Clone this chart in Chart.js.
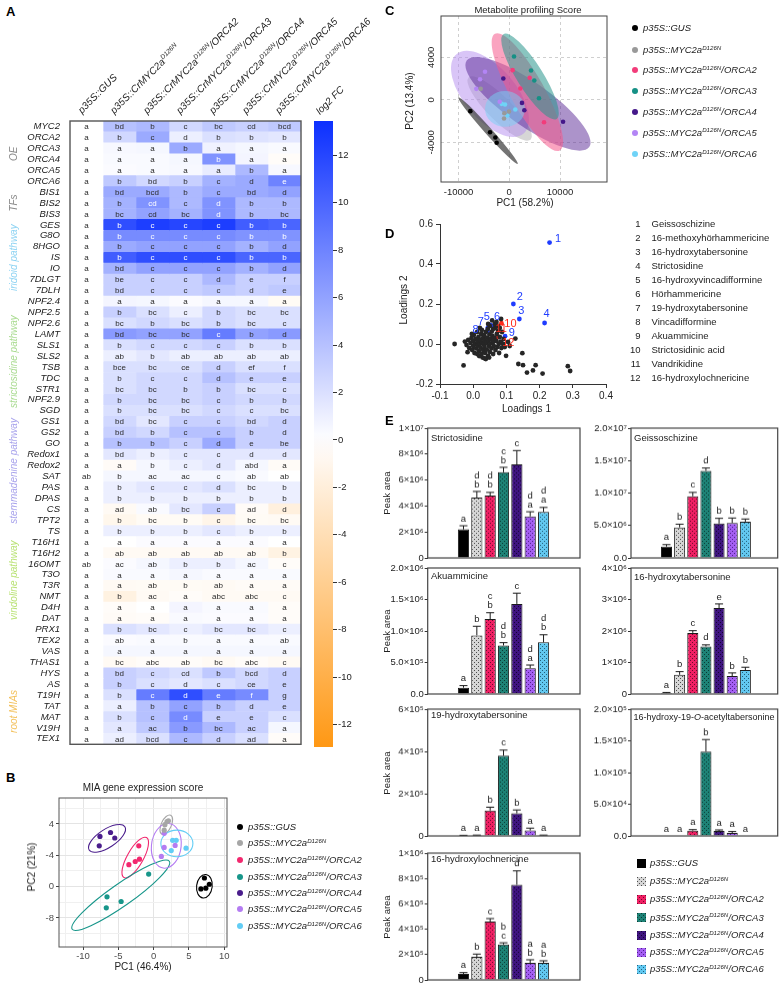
<!DOCTYPE html>
<html><head><meta charset="utf-8"><title>MIA figure</title>
<script src="https://cdn.jsdelivr.net/npm/chart.js@4.4.1/dist/chart.umd.min.js"></script>
<style>
html,body{margin:0;padding:0;background:#fff;}
#fig{position:relative;width:784px;height:985px;overflow:hidden;font-family:"Liberation Sans",Arial,Helvetica,sans-serif;color:#222;}
#fig canvas{position:absolute;}
.tx{position:absolute;white-space:nowrap;line-height:1;}
.sp{font-size:0.65em;position:relative;top:-0.55em;}
</style></head><body><div id="fig"></div>
<script>
// ---------------- DATA ----------------
const genes = ['MYC2','ORCA2','ORCA3','ORCA4','ORCA5','ORCA6','BIS1','BIS2','BIS3','GES','G8O','8HGO','IS','IO','7DLGT','7DLH','NPF2.4','NPF2.5','NPF2.6','LAMT','SLS1','SLS2','TSB','TDC','STR1','NPF2.9','SGD','GS1','GS2','GO','Redox1','Redox2','SAT','PAS','DPAS','CS','TPT2','TS','T16H1','T16H2','16OMT','T3O','T3R','NMT','D4H','DAT','PRX1','TEX2','VAS','THAS1','HYS','AS','T19H','TAT','MAT','V19H','TEX1'];
const heatColumns = [['p35S::GUS'],['p35S::CrMYC2a','D126N'],['p35S::CrMYC2a','D126N','/ORCA2'],['p35S::CrMYC2a','D126N','/ORCA3'],['p35S::CrMYC2a','D126N','/ORCA4'],['p35S::CrMYC2a','D126N','/ORCA5'],['p35S::CrMYC2a','D126N','/ORCA6']];
const log2fc = [
[0,4,4.5,2.5,3.5,3,3.5],[0,2.5,5.5,1,2,1.8,1.5],[0,0.4,0.5,5.5,0.8,0.5,0.3],[0,0.3,0.3,0.5,7,0.6,-0.3],[0,0.2,0.3,0.4,1.2,4.5,0.4],[0,3.5,2.5,3,5,5.5,8],
[0,5.5,5.5,4.5,5.5,5.5,6],[0,5,7,4.5,7,4.5,4.5],[0,5,6,5,7,4.5,4.5],
[0,11.5,12.5,12,12.5,10.5,10],[0,7.5,7.5,7.5,7.5,7,7],[0,5.5,6,6,6,5,6],[0,10.5,11.5,11.5,11.5,10,10],[0,5,6,6,6,5,6],[0,3,3,3,4.5,3,3],[0,3,3,3,3.5,3,3.5],
[0,0.6,0.5,0.2,0.5,0.5,-0.5],[0,3,2,1,2.5,2,2],[0,2,2.5,2,2.5,2,2],[0,6.5,6,6,8.5,6,6.5],[0,2,2.5,2.5,3,2,2],[0,1,1.5,1,1,1,1],[0,2,2,2,3,2,2],[0,2,2.5,2.5,4,3,3],[0,2,2.5,2.5,3,2,2],[0,2.5,2.5,2.5,3,2.5,2.5],[0,2,2,2,2.5,2,2],
[0,2.5,1.5,3,3,2.5,3],[0,3,2.5,4,4,3,3],[0,4,4,3,5.5,3,3],[0,1.5,1,1.5,1.5,1.5,1.5],[0,-0.4,0.5,1,1.5,0.5,-0.4],[0,0.5,0.5,0.5,0.5,0.3,0],[0,1,1.5,1.5,2,1,1],[0,1,1,1,1,1,1],
[0,-0.6,0.3,1.5,3,-0.4,-1.8],[0,-1,-0.5,-0.5,-1.2,-0.5,-0.6],[0,1,1,1,1.5,1,1],
[0,0,0.2,0.2,0.2,0.2,0],[0,-0.6,-0.6,-0.6,-0.6,-0.6,-1.5],[0,0.2,0.5,1,1,0.5,-0.3],[0,0.3,0.3,0.5,0.3,0.3,0.3],[0,-0.6,-0.5,-0.5,-0.6,-0.4,-0.4],[0,-1.6,-0.6,-0.3,-0.6,-0.6,-0.6],[0,-0.3,0,0.6,0.3,0.3,-0.3],[0,-0.4,-0.3,0.3,0.2,0.2,-0.3],
[0,2,1.5,1,1.5,1.5,1],[0,0.2,0.3,0.3,0.3,0.3,0.3],[0,0.5,0.5,0.5,0.5,0.5,0.5],[0,-0.6,-0.3,-0.3,-0.6,-0.3,-0.6],
[0,3,2.5,2,3.5,2.5,3],[0,3,2,1.5,2,2.5,3],[0,2,8.5,11.5,8.5,7.5,3],[0,1,4,6,4,3,3],[0,2,4,7.5,3,3,2],[0,1.5,3.5,6.5,4.5,3,0.5],[0,1,2,4.5,3,2,-0.3]];
const heatLetters = ['a bd b c bc cd bcd','a b c d b b b','a a a b a a a','a a a a b a a','a a a a a b a','a b bd b c d e',
'a bd bcd b c bd d','a b cd c d b b','a bc cd bc d b bc',
'a b c c c b b','a b c c c b b','a b c c c b d','a b c c c b b','a bd c c c b d','a be c c d e f','a bd c c c d e',
'a a a a a a a','a b bc c b bc bc','a bc b bc b bc c','a bd bc bc c b d','a b c c c b b','a ab b ab ab ab ab','a bce bc ce d ef f','a b c c d e e','a bc bc b b bc c','a b bc bc c b b','a b bc bc c c bc',
'a bd bc c c bd d','a bd b c c b d','a b b c d e be','a bd b c c d d','a a b c d abd a','ab b ac ac c ab ab','a b c c d bc b','a b b b b b b',
'a ad ab bc c ad d','a b bc b c bc bc','a b b b c b b',
'a a a a a a a','a ab ab ab ab ab b','ab ac ab b b ac c','a a a a a a a','a a ab b ab a a','a b ac a abc abc c','a a a a a a a','a a a a a a a',
'a b bc c bc bc c','a ab a b a a ab','a a a a a a a','a bc abc ab bc abc c',
'a bd c cd b bcd d','a b c d c ce e','a b c d e f g','a a b c b d e','a b c d e e c','a a ac b bc ac a','a ad bcd c d ad a'];
const heatGroups = [['OE',0,5,'#8a8a8a'],['TFs',6,8,'#8a8a8a'],['iridoid pathway',9,15,'#8dd3f3'],['strictosidine pathway',16,27,'#a9db90'],['stemmadenine pathway',26,37,'#a8a3ec'],['vindoline pathway',38,45,'#b9e274'],['root MIAs',51,56,'#f3c15c']];
const colorbarTicks = [-12,-10,-8,-6,-4,-2,0,2,4,6,8,10,12];
const FC_MIN = -12.95, FC_MAX = 13.45;

const lineNames = [['p35S::GUS'],['p35S::MYC2a','D126N'],['p35S::MYC2a','D126N','/ORCA2'],['p35S::MYC2a','D126N','/ORCA3'],['p35S::MYC2a','D126N','/ORCA4'],['p35S::MYC2a','D126N','/ORCA5'],['p35S::MYC2a','D126N','/ORCA6']];

// Panel B (PCA of MIA gene expression)
const bGUS=[[7.2,1.1],[7.9,0.3],[6.7,-0.3],[7.4,-0.2]];
const bMYC=[[1.9,8.3],[2.1,8.4],[1.6,7.9],[1.5,7.2]];
const bORCA2=[[-2.1,5.2],[-2.0,3.5],[-2.6,3.2],[-3.5,2.8]];
const bORCA3=[[-0.7,1.6],[-6.6,-1.3],[-4.6,-1.9],[-6.7,-2.7]];
const bORCA4=[[-7.6,6.4],[-6.1,6.9],[-5.5,6.2],[-7.7,5.2]];
const bORCA5=[[1.5,6.8],[1.5,5.0],[3.05,5.25],[1.1,3.85]];
const bORCA6=[[2.7,5.9],[3.2,5.9],[2.5,4.6],[4.6,4.9]];
// ellipses: centre x,y and two semi-axis vectors (data units)
const bEllipses=[[7.2,0.05,0.2,1.5,1.1,-0.1],[1.8,7.9,0.62,1.21,0.65,-0.26],[-2.6,3.7,1.6,2.55,0.99,-0.5],[-4.65,-1.1,6.88,4.34,0.9,-1.15],[-6.6,6.15,2.53,1.49,0.7,-0.96],[1.8,5.2,0.3,2.85,2.1,-0.1],[3.3,5.5,2.27,0,0,1.7]];
const bXGrid=[-12.5,-10,-7.5,-5,-2.5,0,2.5,5,7.5,10], bXMajor=[-10,-5,0,5,10], bXLabels=['-10','-5','0','5','10'];
const bYGrid=[-6,-4,-2,0,2,4,6,8,10], bYMajor=[-4,0,4,8], bYLabels=['-8','0','-4','4'];

// Panel C (PCA of metabolite profiling)
const cGUS=[[-7670,-1070],[-3790,-3050],[-2740,-3550],[-2480,-4050]];
const cMYC=[[-5630,1035],[-970,-1260],[-1030,-1760],[-50,-1100]];
const cORCA2=[[670,2790],[4020,2070],[2180,1060],[6850,-2110]];
const cORCA3=[[940,4080],[4290,2760],[4940,1820],[5860,150]];
const cORCA4=[[-1170,2000],[2510,-290],[2970,-980],[10600,-2070]];
const cORCA5=[[-4780,2640],[-6490,1030],[-1880,-190],[-5760,1940]];
const cORCA6=[[-1490,-380],[-840,-440],[1190,-910],[-380,-1480]];
const cEllipses=[[-4190,-2900,5850,-3140,515,220],[-1890,-820,6130,-2930,1670,800],[3570,720,6400,-5490,2930,780],[4090,2190,5240,-3990,2170,650],[3690,-380,12070,-4070,2500,1690],[-3790,560,6620,-3740,3900,1580],[-840,-850,3940,0,0,1690]];
const cXTicks=[-10000,0,10000], cXLabels=['-10000','0','10000'];
const cYTicks=[-4000,0,4000], cYLabels=['-4000','0','4000'];

// Panel D (loadings)
const dOther=[[-0.056,0.0],[-0.029,-0.107],[-0.017,-0.041],[0.099,-0.059],[0.127,0.027],[0.136,-0.1],[0.148,-0.046],[0.15,-0.106],[0.162,-0.143],[0.18,-0.132],[0.188,-0.106],[0.209,-0.148],[0.285,-0.111],[0.292,-0.135],[0.057,0.118],[0.084,0.125],
[-0.025,0.012],[-0.02,-0.005],[-0.015,0.02],[-0.012,-0.02],[-0.008,0.005],[-0.005,0.03],[-0.003,-0.03],[0.0,0.015],[0.0,-0.01],[0.002,0.045],[0.004,-0.045],[0.006,0.0],[0.008,0.025],[0.009,-0.022],[0.012,0.06],[0.013,0.01],[0.014,-0.008],[0.016,0.035],[0.017,-0.035],[0.018,-0.06],[0.02,0.0],[0.021,0.02],[0.022,-0.018],[0.024,0.05],[0.025,-0.05],[0.026,0.07],[0.027,0.008],[0.028,-0.068],[0.03,0.03],[0.03,-0.03],[0.031,0.0],[0.033,0.045],[0.034,-0.015],[0.035,0.018],[0.036,-0.045],[0.038,0.06],[0.038,-0.075],[0.04,0.005],[0.041,-0.028],[0.042,0.032],[0.044,0.075],[0.045,-0.06],[0.046,0.015],[0.047,-0.01],[0.049,0.048],[0.05,-0.04],[0.052,0.002],[0.053,0.025],[0.055,-0.022],[0.056,0.062],[0.058,0.04],[0.06,-0.05],[0.06,0.01],[0.062,-0.01],[0.064,0.03],[0.066,0.08],[0.067,-0.03],[0.07,0.015],[0.071,0.05],[0.073,-0.015],[0.075,0.065],[0.077,0.0],[0.078,-0.045],[0.08,0.035],[0.083,0.012],[0.085,-0.02],[0.087,0.06],[0.09,0.0],[0.092,0.025],[0.095,-0.015],[0.065,0.1],[0.05,0.09],[0.075,0.09],[0.06,0.075],[0.048,-0.068],[0.035,-0.072],[0.02,0.08],[0.012,-0.05],[-0.004,0.05],[0.105,0.01],[0.11,-0.01],[0.07,0.11],[0.08,0.08],[0.045,0.1]];
const dBlue=[[0.23,0.507],[0.121,0.2],[0.139,0.125],[0.215,0.105],[0.051,0.096],[0.056,0.091],[0.044,0.081],[0.043,0.065],[0.096,0.039]];
const dRed=[[0.085,0.104],[0.064,0.091],[0.071,0.032]];
const dCompounds=['Geissoschizine','16-methoxyhörhammericine','16-hydroxytabersonine','Strictosidine','16-hydroxyvincadifformine','Hörhammericine','19-hydroxytabersonine','Vincadifformine','Akuammicine','Strictosidinic acid','Vandrikidine','16-hydroxylochnericine'];
const dXTicks=[-0.1,0,0.1,0.2,0.3,0.4], dXLabels=['-0.1','0.0','0.1','0.2','0.3','0.4'];
const dYTicks=[-0.2,0,0.2,0.4,0.6], dYLabels=['-0.2','0.0','0.2','0.4','0.6'];

// Panel E (peak areas, mean and error)
const strictosidineMean=[2.2e6,4.65e6,4.8e6,6.6e6,7.2e6,3.2e6,3.55e6];
const strictosidineErr=[0.28e6,0.47e6,0.25e6,0.38e6,1.07e6,0.36e6,0.34e6];
const strictosidineLetters=['a','bd','bd','bc','c','ad','ad'];
const strictosidineTicks=[0,2e6,4e6,6e6,8e6,1e7], strictosidineTickLabels=['0','2×10⁶','4×10⁶','6×10⁶','8×10⁶','1×10⁷'];
const geissoschizineMean=[1.75e6,4.7e6,9.5e6,13.4e6,5.3e6,5.4e6,5.6e6];
const geissoschizineErr=[0.3e6,0.5e6,0.6e6,0.45e6,0.8e6,0.75e6,0.4e6];
const geissoschizineLetters=['a','b','c','d','b','b','b'];
const geissoschizineTicks=[0,5e6,1e7,1.5e7,2e7], geissoschizineTickLabels=['0.0','5.0×10⁶','1.0×10⁷','1.5×10⁷','2.0×10⁷'];
const akuammicineMean=[1.0e5,9.3e5,1.19e6,7.7e5,1.43e6,4.1e5,8.2e5];
const akuammicineErr=[0.33e5,1.45e5,1.0e5,0.45e5,1.7e5,0.5e5,1.2e5];
const akuammicineLetters=['a','b','bc','bd','c','ad','bd'];
const akuammicineTicks=[0,5e5,1e6,1.5e6,2e6], akuammicineTickLabels=['0.0','5.0×10⁵','1.0×10⁶','1.5×10⁶','2.0×10⁶'];
const hydroxytabersonineMean=[0.3e5,6.1e5,1.94e6,1.51e6,2.73e6,5.7e5,7.6e5];
const hydroxytabersonineErr=[0.2e5,1.0e5,0.07e6,0.05e6,0.13e6,1.0e5,0.9e5];
const hydroxytabersonineLetters=['a','b','c','d','e','b','b'];
const hydroxytabersonineTicks=[0,1e6,2e6,3e6,4e6], hydroxytabersonineTickLabels=['0','1×10⁶','2×10⁶','3×10⁶','4×10⁶'];
const h19tabersonineMean=[2000,3000,1.2e5,3.8e5,1.07e5,2.6e4,3000];
const h19tabersonineErr=[1000,1000,1.6e4,2.6e4,1.6e4,1.1e4,1000];
const h19tabersonineLetters=['a','a','b','c','b','a','a'];
const h19tabersonineTicks=[0,2e5,4e5,6e5], h19tabersonineTickLabels=['0','2×10⁵','4×10⁵','6×10⁵'];
const acetylMean=[0,0,8500,1.33e5,8000,4800,0];
const acetylErr=[0,0,1500,1.9e4,1500,2200,0];
const acetylLetters=['a','a','a','b','a','a','a'];
const acetylTicks=[0,5e4,1e5,1.5e5,2e5], acetylTickLabels=['0.0','5.0×10⁴','1.0×10⁵','1.5×10⁵','2.0×10⁵'];
const lochnericineMean=[4.8e4,1.83e5,4.6e5,2.8e5,7.5e5,1.35e5,1.35e5];
const lochnericineErr=[1.0e4,2.1e4,2.4e4,1.3e4,1.1e5,2.4e4,1.6e4];
const lochnericineLetters=['a','b','c','cb','d','ba','ba'];
const lochnericineTicks=[0,2e5,4e5,6e5,8e5,1e6], lochnericineTickLabels=['0','2×10⁵','4×10⁵','6×10⁵','8×10⁵','1×10⁶'];

// ---------------- STYLE / HELPERS ----------------
const FONT='"Liberation Sans", Arial, Helvetica, sans-serif';
Chart.defaults.font.family=FONT; Chart.defaults.font.size=9.5; Chart.defaults.color='#222';
Chart.defaults.animation=false; Chart.defaults.responsive=false; Chart.defaults.maintainAspectRatio=false;
Chart.defaults.devicePixelRatio=1; Chart.defaults.events=[];
Chart.defaults.plugins.legend.display=false; Chart.defaults.plugins.tooltip.enabled=false;

const fig=document.getElementById('fig');
function mkCanvas(l,t,w,h){const c=document.createElement('canvas');c.width=w;c.height=h;c.style.left=l+'px';c.style.top=t+'px';c.style.width=w+'px';c.style.height=h+'px';fig.appendChild(c);return c;}
function txt(html,x,y,o={}){const d=document.createElement('div');d.className='tx';d.innerHTML=html;d.style.left=x+'px';d.style.top=y+'px';d.style.fontSize=(o.size||9.5)+'px';
 if(o.color)d.style.color=o.color; if(o.bold)d.style.fontWeight='bold'; if(o.italic)d.style.fontStyle='italic';
 const m=o.mode||'l'; let tr='';
 if(m==='l')tr='translate(0,-50%)'; else if(m==='r')tr='translate(-100%,-50%)'; else if(m==='c')tr='translate(-50%,-50%)';
 else if(m==='v')tr='translate(-50%,-50%) rotate(-90deg)';
 else if(m==='d'){d.style.lineHeight='12px';d.style.top=(y-12)+'px';d.style.transformOrigin='0 100%';tr='rotate(-45deg)';}
 d.style.transform=tr; fig.appendChild(d); return d;}
function lab(p){return p[0]+(p[1]?'<span class="sp">'+p[1]+'</span>':'')+(p[2]||'');}
function fcColor(v){let r,g,b;if(v>=0){const t=Math.min(v/FC_MAX,1);r=255+(12-255)*t;g=255+(48-255)*t;b=255;}else{const t=Math.min(-v/(-FC_MIN),1);r=255;g=255+(152-255)*t;b=255+(20-255)*t;}return `rgb(${r|0},${g|0},${b|0})`;}
function framePlugin(color,w){return {id:'frame',afterDatasetsDraw(c){const a=c.chartArea,x=c.ctx;x.save();x.strokeStyle=color;x.lineWidth=w;x.strokeRect(a.left,a.top,a.right-a.left,a.bottom-a.top);x.restore();}};}
function ellipsePlugin(list,fills,strokes){return {id:'ell',beforeDatasetsDraw(c){const {ctx,scales:{x,y}}=c;const sx=x.getPixelForValue(1)-x.getPixelForValue(0),sy=y.getPixelForValue(1)-y.getPixelForValue(0);
 list.forEach((e,k)=>{ctx.save();ctx.translate(x.getPixelForValue(e[0]),y.getPixelForValue(e[1]));ctx.transform(e[2]*sx,e[3]*sy,e[4]*sx,e[5]*sy,0,0);ctx.beginPath();ctx.arc(0,0,1,0,Math.PI*2);ctx.restore();
 ctx.save();if(fills){ctx.fillStyle=fills[k];ctx.fill();}if(strokes){ctx.strokeStyle=strokes[k];ctx.lineWidth=1.1;ctx.stroke();}ctx.restore();});}};}

// ---------------- PANEL A : heatmap ----------------
txt('A',6,11,{size:13,bold:true,color:'#000'});
new Chart(mkCanvas(0,0,312,760),{type:'bar',
 data:{labels:genes,datasets:heatColumns.map((c,j)=>({data:genes.map(()=>[j,j+1]),backgroundColor:log2fc.map(r=>fcColor(r[j])),borderWidth:0,barPercentage:1,categoryPercentage:1,grouped:false}))},
 options:{indexAxis:'y',layout:{padding:{top:121,bottom:13,right:11,left:0}},
  scales:{x:{type:'linear',min:0,max:7,display:false},
   y:{type:'category',position:'left',grid:{display:false,drawTicks:false},border:{display:false},
      ticks:{autoSkip:false,padding:10,color:'#1a1a1a',font:{size:9.5,style:'italic'}},afterFit:s=>{s.width=70;}}}},
 plugins:[{id:'heat',afterDatasetsDraw(c){const {ctx,chartArea:a,scales:{x,y}}=c;ctx.save();
  ctx.font=`8px ${FONT}`;ctx.textAlign='center';ctx.textBaseline='middle';
  heatLetters.forEach((row,i)=>row.split(' ').forEach((l,j)=>{ctx.fillStyle=log2fc[i][j]>=7?'#ffffff':'#2a2a2a';ctx.fillText(l,x.getPixelForValue(j+0.5),y.getPixelForValue(i)+0.5);}));
  ctx.strokeStyle='#555';ctx.lineWidth=1.4;ctx.strokeRect(a.left,a.top,a.right-a.left,a.bottom-a.top);
  ctx.font=`italic 10px ${FONT}`;
  heatGroups.forEach(g=>{const yc=(y.getPixelForValue(g[1])+y.getPixelForValue(g[2]))/2;ctx.save();ctx.translate(14,yc);ctx.rotate(-Math.PI/2);ctx.fillStyle=g[3];ctx.fillText(g[0],0,0);ctx.restore();});
  ctx.restore();}}]});
heatColumns.forEach((p,j)=>txt(lab(p),86.5+33*j-3,116,{mode:'d',italic:true,size:10}));
// colour bar
new Chart(mkCanvas(300,0,60,760),{type:'bar',
 data:{labels:[''],datasets:[{data:[[FC_MIN,FC_MAX]],borderWidth:0,barPercentage:1,categoryPercentage:1,
  backgroundColor:(ctx)=>{const c=ctx.chart;if(!c.chartArea)return '#fff';const ys=c.scales.y;const g=c.ctx.createLinearGradient(0,ys.getPixelForValue(FC_MIN),0,ys.getPixelForValue(FC_MAX));for(let k=0;k<=26;k++){const v=FC_MIN+(FC_MAX-FC_MIN)*k/26;g.addColorStop(k/26,fcColor(v));}return g;}}]},
 options:{layout:{padding:{top:121,bottom:13,left:14}},
  scales:{x:{display:false},
   y:{position:'right',min:FC_MIN,max:FC_MAX,afterBuildTicks:s=>{s.ticks=colorbarTicks.map(v=>({value:v}));},
      grid:{drawOnChartArea:false,tickLength:4,color:'#333'},border:{display:false},
      ticks:{padding:1,color:'#222',font:{size:9.5}},afterFit:s=>{s.width=27;}}}}});
txt('log2 FC',322,117,{mode:'d',italic:true,size:10});

// ---------------- PANEL B ----------------
const bSets=[bGUS,bMYC,bORCA2,bORCA3,bORCA4,bORCA5,bORCA6];
const bColors=['#000000','#a6a6a6','#f2286e','#17968a','#4a1d8c','#b47cf2','#62cdf5'];
txt('B',6,777,{size:13,bold:true,color:'#000'});
new Chart(mkCanvas(0,760,390,225),{type:'scatter',
 data:{datasets:bSets.map((s,k)=>({data:s.map(p=>({x:p[0],y:p[1]})),backgroundColor:bColors[k],borderWidth:0,pointRadius:2.6}))},
 options:{layout:{padding:{top:38,right:163,left:0,bottom:0}},
  scales:{x:{type:'linear',min:-13.4,max:10.4,afterBuildTicks:s=>{s.ticks=bXGrid.map(v=>({value:v}));},
     grid:{color:c=>bXMajor.includes(c.tick.value)?'#e4e4e4':'#f0f0f0',tickColor:c=>bXMajor.includes(c.tick.value)?'#444':'rgba(0,0,0,0)',tickLength:3},border:{display:false},
     ticks:{padding:1,color:'#4d4d4d',font:{size:9.5},maxRotation:0,autoSkip:false,callback:v=>{const k=bXMajor.indexOf(v);return k>=0?bXLabels[k]:'';}},afterFit:s=>{s.height=38;}},
   y:{type:'linear',min:-7.7,max:11.3,afterBuildTicks:s=>{s.ticks=bYGrid.map(v=>({value:v}));},
     grid:{color:c=>bYMajor.includes(c.tick.value)?'#e4e4e4':'#f0f0f0',tickColor:c=>bYMajor.includes(c.tick.value)?'#444':'rgba(0,0,0,0)',tickLength:3},border:{display:false},
     ticks:{padding:2,color:'#4d4d4d',font:{size:9.5},autoSkip:false,callback:v=>{const k=bYMajor.indexOf(v);return k>=0?bYLabels[k]:'';}},afterFit:s=>{s.width=59;}}}},
 plugins:[ellipsePlugin(bEllipses,null,bColors),framePlugin('#555',1)]});
txt('MIA gene expression score',143,788,{mode:'c',size:10});
txt('PC1 (46.4%)',143,967,{mode:'c',size:10});
txt('PC2 (21%)',32,867,{mode:'v',size:10});
const bLegY=[826.7,843.3,860,876.7,893.3,909.3,926];
lineNames.forEach((p,k)=>{const d=document.createElement('div');d.style.cssText=`position:absolute;left:${240-3}px;top:${bLegY[k]-3}px;width:6px;height:6px;border-radius:50%;background:${bColors[k]}`;fig.appendChild(d);
 txt(lab(p),248,bLegY[k],{italic:true,size:9.5});});

// ---------------- PANEL C ----------------
const cSets=[cGUS,cMYC,cORCA2,cORCA3,cORCA4,cORCA5,cORCA6];
const cPoint=['#000000','#999999','#f23c7a','#159085','#45188a','#b385f5','#6fd3f7'];
const cFill=['rgba(70,70,70,0.75)','rgba(165,165,165,0.45)','rgba(245,90,140,0.55)','rgba(40,150,140,0.55)','rgba(90,40,150,0.5)','rgba(180,140,240,0.5)','rgba(120,210,245,0.5)'];
txt('C',385,10,{size:13,bold:true,color:'#000'});
const cOrder=[1,5,4,2,3,0,6];
new Chart(mkCanvas(390,0,394,215),{type:'scatter',
 data:{datasets:cSets.map((s,k)=>({data:s.map(p=>({x:p[0],y:p[1]})),backgroundColor:cPoint[k],borderWidth:0,pointRadius:2.3}))},
 options:{layout:{padding:{top:16,right:177,left:0,bottom:0}},
  scales:{x:{type:'linear',min:-13450,max:19260,afterBuildTicks:s=>{s.ticks=cXTicks.map(v=>({value:v}));},
     grid:{color:'#cfcfcf',drawTicks:false},border:{display:false,dash:[3,3]},
     ticks:{padding:5,color:'#222',font:{size:9.5},maxRotation:0,callback:(v,i)=>cXLabels[i]},afterFit:s=>{s.height=33;}},
   y:{type:'linear',min:-7740,max:7890,afterBuildTicks:s=>{s.ticks=cYTicks.map(v=>({value:v}));},
     grid:{color:'#cfcfcf',drawTicks:false},border:{display:false,dash:[3,3]},
     ticks:{display:false},afterFit:s=>{s.width=51;}}}},
 plugins:[ellipsePlugin(cOrder.map(k=>cEllipses[k]),cOrder.map(k=>cFill[k]),null),framePlugin('#444',1),
  {id:'cy',afterDraw(c){const {ctx,scales:{y}}=c;ctx.save();ctx.font=`9.5px ${FONT}`;ctx.fillStyle='#222';ctx.textAlign='center';ctx.textBaseline='middle';
   cYTicks.forEach((v,i)=>{ctx.save();ctx.translate(41.5,y.getPixelForValue(v));ctx.rotate(-Math.PI/2);ctx.fillText(cYLabels[i],0,0);ctx.restore();});ctx.restore();}}]});
txt('Metabolite profiling Score',528,9.5,{mode:'c',size:9.5});
txt('PC1 (58.2%)',525,202.5,{mode:'c',size:10});
txt('PC2 (13.4%)',410,101,{mode:'v',size:10});
const cLegY=[28.3,50,70,90.7,111.7,132.7,154];
lineNames.forEach((p,k)=>{const d=document.createElement('div');d.style.cssText=`position:absolute;left:${635-3}px;top:${cLegY[k]-3}px;width:6px;height:6px;border-radius:50%;background:${cPoint[k]}`;fig.appendChild(d);
 txt(lab(p),643,cLegY[k],{italic:true,size:9.5});});

// ---------------- PANEL D ----------------
txt('D',385,233,{size:13,bold:true,color:'#000'});
const dLabDX=[8.4,6.4,2,2,-3.3,5.3,-7,-12,6.7,9,6.7,11.6], dLabDY=[-3.6,-7.3,-8,-8.7,-7.7,-9,-6,-1,-3.6,0.7,3.6,5.3];
new Chart(mkCanvas(390,215,394,200),{type:'scatter',
 data:{datasets:[{data:dOther.map(p=>({x:p[0],y:p[1]})),backgroundColor:'#262626',borderWidth:0,pointRadius:2.4},
   {data:dBlue.map(p=>({x:p[0],y:p[1]})),backgroundColor:'#1f3cff',borderWidth:0,pointRadius:2.4},
   {data:dRed.map(p=>({x:p[0],y:p[1]})),backgroundColor:'#ff2b1c',borderWidth:0,pointRadius:2.4}]},
 options:{layout:{padding:{top:5,right:178,left:0,bottom:0}},
  scales:{x:{type:'linear',min:-0.1,max:0.4,afterBuildTicks:s=>{s.ticks=dXTicks.map(v=>({value:v}));},
     grid:{drawOnChartArea:false,tickLength:4,color:'#333'},border:{display:true,color:'#333',width:1},
     ticks:{padding:2,color:'#222',font:{size:10},maxRotation:0,callback:(v,i)=>dXLabels[i]},afterFit:s=>{s.height=31;}},
   y:{type:'linear',min:-0.2,max:0.6,afterBuildTicks:s=>{s.ticks=dYTicks.map(v=>({value:v}));},
     grid:{drawOnChartArea:false,tickLength:4,color:'#333'},border:{display:true,color:'#333',width:1},
     ticks:{padding:3,color:'#222',font:{size:10},callback:(v,i)=>dYLabels[i]},afterFit:s=>{s.width=50;}}}},
 plugins:[{id:'dlab',afterDatasetsDraw(c){const {ctx,scales:{x,y}}=c;ctx.save();ctx.font=`11px ${FONT}`;ctx.textAlign='center';ctx.textBaseline='middle';
  dBlue.concat(dRed).forEach((p,k)=>{ctx.fillStyle=k<dBlue.length?'#1f3cff':'#ff2b1c';ctx.fillText(String(k+1),x.getPixelForValue(p[0])+dLabDX[k],y.getPixelForValue(p[1])+dLabDY[k]);});ctx.restore();}}]});
txt('Loadings 1',526.5,409,{mode:'c',size:10});
txt('Loadings 2',404,300,{mode:'v',size:10});
dCompounds.forEach((n,k)=>{const yy=224+14*k;txt(String(k+1),640.5,yy,{mode:'r',size:9.5});txt(n,651.5,yy,{size:9.5});});

// ---------------- PANEL E ----------------
txt('E',385,420,{size:13,bold:true,color:'#000'});
function makePattern(base,dot){const c=document.createElement('canvas');c.width=4;c.height=4;const x=c.getContext('2d');x.fillStyle=base;x.fillRect(0,0,4,4);if(dot){x.fillStyle=dot;x.fillRect(0,0,1,1);x.fillRect(2,2,1,1);}return x.createPattern(c,'repeat');}
const eBase=['#000000','#d6d6d6','#ef1f63','#1e8276','#3f1480','#a45ff2','#62c8f0'];
const eDot=[null,'#4a4a4a','#6e0a2c','#0a3a33','#150533','#4f1e8a','#225f7a'];
const ePat=eBase.map((b,k)=>makePattern(b,eDot[k]));
function eChart(L,R,T,B,cl,cw,xmin,xmax,mean,err,letters,ticks,tlabels){
 const cv=mkCanvas(cl,T-12,cw,B-T+20);
 new Chart(cv,{type:'bar',
  data:{datasets:[{data:mean.map((v,i)=>({x:i,y:v})),backgroundColor:ePat,borderColor:'#1a1a1a',borderWidth:1,barPercentage:0.84,categoryPercentage:1}]},
  options:{layout:{padding:{top:12,bottom:8,right:cl+cw-R,left:0}},
   scales:{x:{type:'linear',min:xmin,max:xmax,display:false},
    y:{min:0,max:ticks[ticks.length-1],afterBuildTicks:s=>{s.ticks=ticks.map(v=>({value:v}));},
       grid:{drawOnChartArea:false,tickLength:3,color:'#333'},border:{display:false},
       ticks:{padding:1,color:'#222',font:{size:9.5},callback:(v,i)=>tlabels[i]},afterFit:s=>{s.width=L-cl;}}}},
  plugins:[{id:'eb',afterDatasetsDraw(c){const {ctx,chartArea:a,scales:{x,y}}=c;ctx.save();ctx.strokeStyle='#1a1a1a';ctx.lineWidth=1;ctx.fillStyle='#222';
   ctx.font=`9.5px ${FONT}`;ctx.textAlign='center';ctx.textBaseline='middle';
   mean.forEach((m,i)=>{const px=x.getPixelForValue(i),y1=y.getPixelForValue(m),y2=y.getPixelForValue(m+err[i]);
    if(err[i]>0){ctx.beginPath();ctx.moveTo(px,y1);ctx.lineTo(px,y2);ctx.moveTo(px-4,y2);ctx.lineTo(px+4,y2);ctx.stroke();}
    letters[i].split('').forEach((ch,k)=>ctx.fillText(ch,px,y2-7-k*9));});
   ctx.strokeStyle='#454545';ctx.lineWidth=1.2;ctx.strokeRect(a.left,a.top,a.right-a.left,a.bottom-a.top);ctx.restore();}}]});
}
eChart(427.7,580,428.3,557.7,380,205,-0.78,6.83,strictosidineMean,strictosidineErr,strictosidineLetters,strictosidineTicks,strictosidineTickLabels);
eChart(631,777.7,428.3,557.7,586,198,-0.84,6.6,geissoschizineMean,geissoschizineErr,geissoschizineLetters,geissoschizineTicks,geissoschizineTickLabels);
eChart(427.7,580,567.7,693.7,380,205,-0.78,6.83,akuammicineMean,akuammicineErr,akuammicineLetters,akuammicineTicks,akuammicineTickLabels);
eChart(631,777.7,567.7,693.7,586,198,-0.84,6.6,hydroxytabersonineMean,hydroxytabersonineErr,hydroxytabersonineLetters,hydroxytabersonineTicks,hydroxytabersonineTickLabels);
eChart(427.7,580,709.3,835.7,380,205,-0.78,6.83,h19tabersonineMean,h19tabersonineErr,h19tabersonineLetters,h19tabersonineTicks,h19tabersonineTickLabels);
eChart(631,777.7,709.3,835.7,586,198,-0.84,6.6,acetylMean,acetylErr,acetylLetters,acetylTicks,acetylTickLabels);
eChart(427.7,580,853.3,980,380,205,-0.78,6.83,lochnericineMean,lochnericineErr,lochnericineLetters,lochnericineTicks,lochnericineTickLabels);
txt('Strictosidine',431,438.3,{size:9.5});
txt('Geissoschizine',634,438.3,{size:9.5});
txt('Akuammicine',431,576,{size:9.5});
txt('16-hydroxytabersonine',634,576.7,{size:9.5});
txt('19-hydroxytabersonine',431,715,{size:9.5});
txt('16-hydroxy-19-<i>O</i>-acetyltabersonine',633.5,717.3,{size:9});
txt('16-hydroxylochnericine',431,859.3,{size:9.5});
[493,630.7,772.5,916.7].forEach(yc=>txt('Peak area',387,yc,{mode:'v',size:9.5}));
const eLegY=[863.3,881,899,917.7,935,952.3,969.3];
lineNames.forEach((p,k)=>{const c=mkCanvas(637,eLegY[k]-4.5,9,9);const x=c.getContext('2d');x.fillStyle=ePat[k];x.fillRect(0,0,9,9);
 txt(lab(p),650,eLegY[k],{italic:true,size:9.5});});
</script></body></html>
